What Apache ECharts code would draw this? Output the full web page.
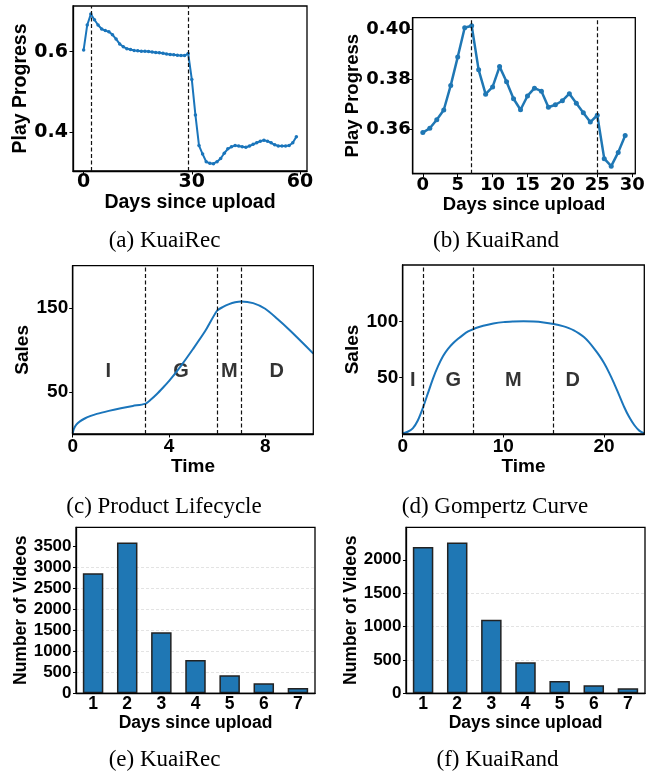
<!DOCTYPE html>
<html><head><meta charset="utf-8">
<script src="https://cdn.jsdelivr.net/npm/echarts@6/dist/echarts.min.js"></script>
<style>html,body{margin:0;padding:0;background:#fff}#c{width:657px;height:775px}</style>
</head><body><div id="c"></div>
<script>
// (a) KuaiRec play progress, days 0..59
const aProgress = [0.604,0.666,0.693,0.679,0.666,0.656,0.652,0.649,0.642,0.631,
  0.619,0.612,0.607,0.605,0.603,0.602,0.601,0.601,0.600,0.599,
  0.598,0.597,0.596,0.594,0.593,0.592,0.591,0.590,0.590,0.595,
  0.531,0.443,0.367,0.346,0.327,0.323,0.322,0.327,0.335,0.348,
  0.359,0.364,0.367,0.366,0.364,0.363,0.366,0.370,0.374,0.378,
  0.380,0.378,0.374,0.369,0.366,0.366,0.366,0.367,0.374,0.389];
const aDashes = [2, 29];
const aXTicks = [0, 30, 60];
const aYTicks = [0.4, 0.6];
// (b) KuaiRand play progress, days 0..29
const bProgress = [0.3587,0.3604,0.3638,0.3677,0.3775,0.3888,0.4005,0.4013,0.3837,0.3740,
  0.3769,0.3850,0.3790,0.3722,0.3678,0.3733,0.3764,0.3752,0.3688,0.3698,
  0.3714,0.3742,0.3704,0.3666,0.3629,0.3656,0.3483,0.3453,0.3508,0.3575];
const bDashes = [7, 25];
const bXTicks = [0, 5, 10, 15, 20, 25, 30];
const bYTicks = [0.36, 0.38, 0.40];
// (c) Product lifecycle
const cTime = [0,0.05,0.15,0.3,0.5,0.75,1,1.5,2,2.5,3,3.25,3.5,3.75,4,4.5,5,5.5,6,6.25,6.5,6.75,7,7.5,8,8.5,9,9.5,10];
const cSales = [1,6,11,15,18.4,21.5,23.9,27.5,30.7,33.4,35.8,41,47.6,55,62.7,81,101,122,146.5,151,154.3,156.5,157.5,155.5,148.8,137,124,110,95.5];
const cDashes = [3, 6, 7];
const cXTicks = [0, 4, 8];
const cYTicks = [50, 150];
const cPhases = ['I','G','M','D'];
const cPhaseX = [1.48, 4.5, 6.51, 8.48];
const cPhaseY = [74.5, 74.5, 74.5, 74.5];
// (d) Gompertz curve
const dTime = [0,0.5,1,1.5,2,2.5,3,3.5,4,4.5,5,5.5,6,6.5,7,7.5,8,9,10,11,12,13,14,15,16,16.5,17,17.5,18,18.5,19,19.5,20,20.5,21,21.5,22,22.5,23,23.5,24];
const dSales = [0.5,2,5,12,23,36,49,60,69,75.5,80.5,84.5,88,91,93,94.7,96,98,99.3,99.8,100,99.8,99,97.6,95.5,94,92,89.3,86,81.5,76,70,63,54.5,45,34.5,24,15,8,3,0.5];
const dDashes = [2, 7, 15];
const dXTicks = [0, 10, 20];
const dYTicks = [50, 100];
const dPhases = ['I','G','M','D'];
const dPhaseX = [1.0, 5.03, 11.0, 16.9];
const dPhaseY = [47.9, 47.9, 47.9, 47.9];
// (e),(f) number of videos per day since upload
const barDays = ['1','2','3','4','5','6','7'];
const eVideos = [2865, 3595, 1456, 795, 430, 239, 127];
const fVideos = [2190, 2259, 1100, 465, 185, 120, 75];
const eYTicks = [0, 500, 1000, 1500, 2000, 2500, 3000, 3500];
const fYTicks = [0, 500, 1000, 1500, 2000];

const BLUE = '#1f77b4';
const DJ = 'DejaVu Sans', LS = 'Liberation Sans';

const grids = [
  {left:73, top:6, width:234, height:165},
  {left:412.7, top:17.7, width:222.6, height:156},
  {left:72.7, top:265.7, width:240.6, height:168.3},
  {left:402.7, top:265, width:241.6, height:169},
  {left:76, top:527.3, width:239, height:166},
  {left:406, top:527.3, width:239, height:166}
].map(g => Object.assign({show:true, borderColor:'#000', borderWidth:1.3, containLabel:false, backgroundColor:'transparent', z:5}, g));

function vAxis(o){
  return {
    type:'value', gridIndex:o.g, min:o.min, max:o.max,
    name:o.name, nameLocation:'middle', nameGap:o.gap,
    nameTextStyle:{fontFamily:LS, fontWeight:'bold', fontSize:o.nfs, color:'#000'},
    axisLine:{show:true, onZero:false, lineStyle:{color:'#000', width:1.3}},
    axisTick:{show:true, length:3.5, lineStyle:{color:'#000', width:1}, customValues:o.ticks},
    axisLabel:{show:true, customValues:o.ticks, margin:o.margin, fontFamily:o.font, fontWeight:'bold', fontSize:o.fs, color:'#000',
      formatter:o.fmt || (v => String(v))},
    splitLine:{show:false}
  };
}
function catAxis(g){
  return {type:'category', gridIndex:g, data:barDays, name:'Days since upload', nameLocation:'middle', nameGap:18,
    nameTextStyle:{fontFamily:LS, fontWeight:'bold', fontSize:17.5, color:'#000'},
    axisLine:{onZero:false, lineStyle:{color:'#000', width:1.3}}, axisTick:{alignWithLabel:true, length:3, lineStyle:{color:'#000'}},
    axisLabel:{margin:2, fontFamily:LS, fontWeight:'bold', fontSize:17.5, color:'#000'}};
}
function countAxis(g, max, ticks){
  return {type:'value', gridIndex:g, min:0, max:max, interval:500, name:'Number of Videos', nameLocation:'middle', nameGap:41,
    nameTextStyle:{fontFamily:LS, fontWeight:'bold', fontSize:17.5, color:'#000'},
    axisLine:{show:true, onZero:false, lineStyle:{color:'#000', width:1.3}},
    axisTick:{show:true, length:3, lineStyle:{color:'#000'}, customValues:ticks},
    axisLabel:{margin:4.5, fontFamily:LS, fontWeight:'bold', fontSize:17, color:'#000', customValues:ticks, formatter:v => String(v)},
    splitLine:{show:true, showMinLine:false, showMaxLine:false, lineStyle:{color:'#dcdcdc', type:[3,2], width:0.8}}};
}
function dashLines(vals){
  return {silent:true, symbol:['none','none'], label:{show:false},
    lineStyle:{type:[4,2.5], color:'#111', width:1.2},
    data: vals.map(v => ({xAxis:v}))};
}
function pairs(xs, ys){ return xs.map((x,i)=>[x, ys[i]]); }

const xAxes = [
  vAxis({g:0, min:-2.95, max:61.95, ticks:aXTicks, name:'Days since upload', gap:21, nfs:19.5, font:DJ, fs:19, margin:2}),
  vAxis({g:1, min:-1.45, max:30.45, ticks:bXTicks, name:'Days since upload', gap:20, nfs:18.5, font:DJ, fs:18, margin:3}),
  vAxis({g:2, min:0, max:10, ticks:cXTicks, name:'Time', gap:20, nfs:19, font:LS, fs:19, margin:3}),
  vAxis({g:3, min:0, max:24, ticks:dXTicks, name:'Time', gap:20, nfs:19, font:LS, fs:19, margin:3}),
  catAxis(4), catAxis(5)
];
const yAxes = [
  vAxis({g:0, min:0.304, max:0.713, ticks:aYTicks, name:'Play Progress', gap:37, nfs:19.5, font:DJ, fs:19, margin:5, fmt:v=>v.toFixed(1)}),
  vAxis({g:1, min:0.3423, max:0.4045, ticks:bYTicks, name:'Play Progress', gap:48, nfs:18.5, font:DJ, fs:18, margin:2, fmt:v=>v.toFixed(2)}),
  vAxis({g:2, min:0, max:200, ticks:cYTicks, name:'Sales', gap:38, nfs:19, font:LS, fs:19, margin:4.5}),
  vAxis({g:3, min:0, max:150, ticks:dYTicks, name:'Sales', gap:38, nfs:19, font:LS, fs:19, margin:4.5}),
  countAxis(4, 3960, eYTicks),
  countAxis(5, 2486, fYTicks)
];

function phaseSeries(idx, names, xs, ys){
  return {type:'scatter', xAxisIndex:idx, yAxisIndex:idx, symbolSize:0, silent:true,
    data: names.map((n,i)=>({value:[xs[i], ys[i]], name:n})),
    label:{show:true, position:'inside', formatter:p=>p.name, fontFamily:LS, fontWeight:'bold', fontSize:20, color:'#000'}};
}

const series = [
  {type:'line', xAxisIndex:0, yAxisIndex:0, data:aProgress.map((v,i)=>[i,v]), symbol:'circle', symbolSize:3.5,
    lineStyle:{color:'#1a75bb', width:2}, itemStyle:{color:'#1a75bb'}, markLine:dashLines(aDashes)},
  {type:'line', xAxisIndex:1, yAxisIndex:1, data:bProgress.map((v,i)=>[i,v]), symbol:'circle', symbolSize:5,
    lineStyle:{color:BLUE, width:2.5}, itemStyle:{color:BLUE}, markLine:dashLines(bDashes)},
  {type:'line', xAxisIndex:2, yAxisIndex:2, data:pairs(cTime,cSales), symbol:'none', smooth:0.25,
    lineStyle:{color:'#1a75bb', width:2}, markLine:dashLines(cDashes)},
  {type:'line', xAxisIndex:3, yAxisIndex:3, data:pairs(dTime,dSales), symbol:'none', smooth:0.3,
    lineStyle:{color:'#1a75bb', width:2}, markLine:dashLines(dDashes)},
  phaseSeries(2, cPhases, cPhaseX, cPhaseY),
  phaseSeries(3, dPhases, dPhaseX, dPhaseY),
  {type:'bar', xAxisIndex:4, yAxisIndex:4, data:eVideos, barWidth:'60%',
    itemStyle:{color:BLUE, borderColor:'#222', borderWidth:1.5}},
  {type:'bar', xAxisIndex:5, yAxisIndex:5, data:fVideos, barWidth:'60%',
    itemStyle:{color:BLUE, borderColor:'#222', borderWidth:1.5}}
];

const captions = [
  ['(a) KuaiRec', 164.5, 241], ['(b) KuaiRand', 496, 241],
  ['(c) Product Lifecycle', 164, 507], ['(d) Gompertz Curve', 495, 507],
  ['(e) KuaiRec', 164.5, 760], ['(f) KuaiRand', 497.5, 760]
];
const graphic = captions.map(c => ({type:'text', x:c[1], y:c[2], silent:true,
  style:{text:c[0], fill:'#000', font:'23px "Liberation Serif"', textAlign:'center', textVerticalAlign:'middle'}}));

const chart = echarts.init(document.getElementById('c'), null, {renderer:'canvas'});
chart.setOption({animation:false, backgroundColor:'#fff', grid:grids, xAxis:xAxes, yAxis:yAxes, series, graphic});
</script></body></html>
